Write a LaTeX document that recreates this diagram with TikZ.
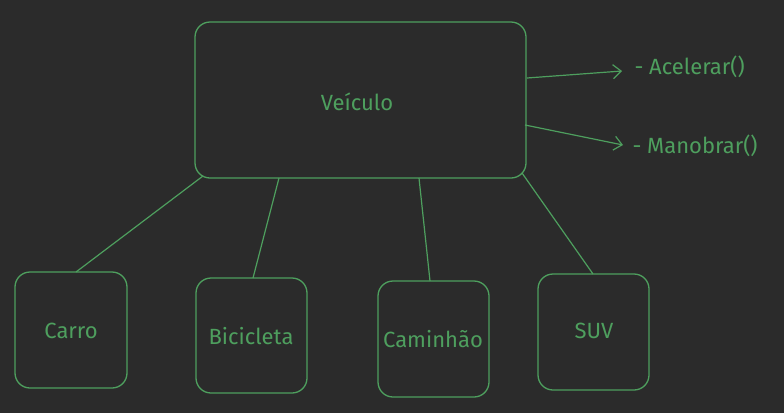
\documentclass[tikz,border=0pt]{standalone}
\usepackage{fontspec}
\setmainfont{Fira Sans}
\usetikzlibrary{arrows.meta}
\definecolor{bg}{HTML}{2B2B2B}
\definecolor{gr}{HTML}{4E9F5E}
\begin{document}
\begin{tikzpicture}[x=1pt,y=-1pt,
  box/.style={draw=gr,line width=1.3pt,rounded corners=15pt,text=gr},
  lbl/.style={text=gr,font=\fontsize{22}{26}\selectfont},
  link/.style={draw=gr,line width=1.2pt},
  arr/.style={draw=gr,line width=1.2pt,-{Straight Barb[length=8pt,width=14pt]}}]
\fill[bg] (0,0) rectangle (784,413);
\useasboundingbox (0,0) rectangle (784,413);
\draw[box] (195,22) rectangle (526,178);
\node[lbl] (veiculo) at (357,102) {Veículo};
\draw[box] (15,272) rectangle (127,388);
\node[lbl] (carro) at (71,331) {Carro};
\draw[box] (196,278) rectangle (307,393);
\node[lbl] (bici) at (251,336) {Bicicleta};
\draw[box] (378,281) rectangle (489,397);
\node[lbl] (cam) at (433,339) {Caminhão};
\draw[box] (538,274) rectangle (649,390);
\node[lbl] (suv) at (594,331) {SUV};
\coordinate (m1) at (203,176); \coordinate (c1) at (76,272);
\coordinate (m2) at (279,178); \coordinate (b1) at (253,278);
\coordinate (m3) at (419,178); \coordinate (k1) at (430,281);
\coordinate (m4) at (522,173); \coordinate (s1) at (593,274);
\draw[link] (m1) -- (c1);
\draw[link] (m2) -- (b1);
\draw[link] (m3) -- (k1);
\draw[link] (m4) -- (s1);
\coordinate (a0) at (527,78); \coordinate (a1) at (622,71);
\coordinate (b0) at (525,125); \coordinate (b2) at (623,145);
\draw[arr] (a0) -- (a1);
\draw[arr] (b0) -- (b2);
\node[lbl,anchor=west] (acel) at (631,67) {- Acelerar()};
\node[lbl,anchor=west] (mano) at (629,146) {- Manobrar()};
\end{tikzpicture}
\end{document}
